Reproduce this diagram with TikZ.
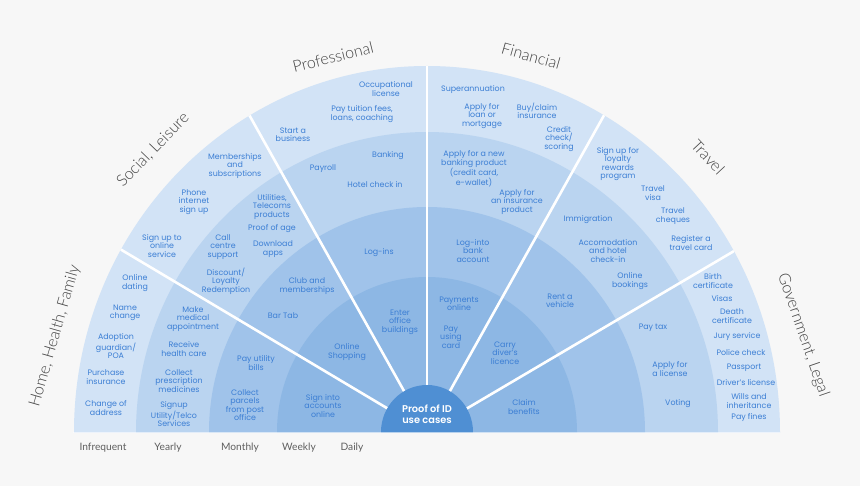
\documentclass[tikz,border=0pt]{standalone}
\usepackage{fontspec}
\newfontfamily\itemfont{Poppins}
\IfFontExistsTF{Poppins SemiBold}{\newfontfamily\corefont{Poppins SemiBold}}{\newfontfamily\corefont{Poppins}[FakeBold=1.5]}
\IfFontExistsTF{Lato Light}{\newfontfamily\thinfont{Lato Light}}{\newfontfamily\thinfont{Lato}}
\newfontfamily\labfont{Lato}
\definecolor{bg}{HTML}{F7F7F7}
\definecolor{ringA}{HTML}{D2E3F6}
\definecolor{ringB}{HTML}{BAD4F0}
\definecolor{ringC}{HTML}{A0C3EA}
\definecolor{ringD}{HTML}{8DB7E4}
\definecolor{core}{HTML}{4F8FD3}
\definecolor{itemblue}{HTML}{3B7ED4}
\definecolor{sectgray}{HTML}{444444}
\definecolor{freqgray}{HTML}{5E5E5E}
\begin{document}
\begin{tikzpicture}[x=1pt,y=-1pt,
  item/.style={font=\itemfont\fontsize{7.9pt}{8.4pt}\selectfont, text=itemblue, align=center, inner sep=0pt},
  sect/.style={font=\thinfont\fontsize{16pt}{18pt}\selectfont, text=sectgray, inner sep=0pt},
  freq/.style={font=\labfont\fontsize{10.2pt}{12pt}\selectfont, text=freqgray, inner sep=0pt},
  corelabel/.style={font=\corefont\fontsize{9.8pt}{11.5pt}\selectfont, text=white, align=center, inner sep=0pt},
  divider/.style={draw=white, line width=2.6pt},
]
\fill[bg] (0,0) rectangle (860,486);
\useasboundingbox (0,0) rectangle (860,486);
\coordinate (c) at (427,432);
\coordinate (d1) at (83.4,227.2);
\coordinate (d2) at (231.4,83.2);
\coordinate (d3) at (427,32);
\coordinate (d4) at (622.2,82.8);
\coordinate (d5) at (771.8,228.8);
\coordinate (bl) at (73,432.3);
\coordinate (br) at (780,432.3);
\begin{scope}
  \clip (0,0) rectangle (860,432.5);
  \fill[ringA] (c) ellipse [x radius=353pt, y radius=366pt];
  \fill[ringB] (c) ellipse [x radius=291pt, y radius=300pt];
  \fill[ringC] (c) ellipse [x radius=218pt, y radius=225pt];
  \fill[ringD] (c) ellipse [x radius=150pt, y radius=155pt];
  \clip (c) ellipse [x radius=353pt, y radius=366pt];
  \draw[divider] (c) -- (d1);
  \draw[divider] (c) -- (d2);
  \draw[divider] (c) -- (d3);
  \draw[divider] (c) -- (d4);
  \draw[divider] (c) -- (d5);
  \fill[core] (c) ellipse [x radius=46pt, y radius=47pt];
\end{scope}
\draw[white, opacity=0.6, line width=0.8pt] (bl) -- (br);
\node[corelabel] (core) at (427,414) {Proof of ID\\use cases};

% Home, Health, Family
\node[item] (h1) at (135,283) {Online\\dating};
\node[item] (h2) at (125,313) {Name\\change};
\node[item] (h3) at (116,346) {Adoption\\guardian/\\POA};
\node[item] (h4) at (106,377) {Purchase\\insurance};
\node[item] (h5) at (106,408) {Change of\\address};
\node[item] (h6) at (193,319) {Make\\medical\\appointment};
\node[item] (h7) at (184,349) {Receive\\health care};
\node[item] (h8) at (179,381) {Collect\\prescription\\medicines};
\node[item] (h9) at (174,414) {Signup\\Utility/Telco\\Services};
\node[item] (h10) at (256,363) {Pay utility\\bills};
\node[item] (h11) at (245,405) {Collect\\parcels\\from post\\office};
\node[item] (h12) at (323,406) {Sign into\\accounts\\online};

% Social, Leisure
\node[item] (s1) at (162,246) {Sign up to\\online\\service};
\node[item] (s2) at (194,202) {Phone\\internet\\sign up};
\node[item] (s3) at (235,166) {Memberships\\and\\subscriptions};
\node[item] (s4) at (272,207) {Utilities,\\Telecoms\\products};
\node[item] (s5) at (272,229) {Proof of age};
\node[item] (s6) at (223,247) {Call\\centre\\support};
\node[item] (s7) at (273,249) {Download\\apps};
\node[item] (s8) at (226,281) {Discount/\\Loyalty\\Redemption};
\node[item] (s9) at (307,286) {Club and\\memberships};
\node[item] (s10) at (283,316) {Bar Tab};
\node[item] (s11) at (347,352) {Online\\Shopping};

% Professional
\node[item] (p1) at (386,89) {Occupational\\license};
\node[item] (p2) at (362,114) {Pay tuition fees,\\loans, coaching};
\node[item] (p3) at (293,135) {Start a\\business};
\node[item] (p4) at (388,156) {Banking};
\node[item] (p5) at (323,169) {Payroll};
\node[item] (p6) at (375,185) {Hotel check in};
\node[item] (p7) at (379,253) {Log-ins};
\node[item] (p8) at (400,322) {Enter\\office\\buildings};

% Financial
\node[item] (f1) at (473,90) {Superannuation};
\node[item] (f2) at (482,116) {Apply for\\loan or\\mortgage};
\node[item] (f3) at (537,111) {Buy/claim\\insurance};
\node[item] (f4) at (559,139) {Credit\\check/\\scoring};
\node[item] (f5) at (474,169) {Apply for a new\\banking product\\(credit card,\\e-wallet)};
\node[item] (f6) at (517,202) {Apply for\\an insurance\\product};
\node[item] (f7) at (473,251) {Log-into\\bank\\account};
\node[item] (f8) at (459,304) {Payments\\online};
\node[item] (f9) at (451,337) {Pay\\using\\card};

% Travel
\node[item] (t1) at (618,164) {Sign up for\\loyalty\\rewards\\program};
\node[item] (t2) at (653,193) {Travel\\visa};
\node[item] (t3) at (673,216) {Travel\\cheques};
\node[item] (t4) at (691,243) {Register a\\travel card};
\node[item] (t5) at (588,220) {Immigration};
\node[item] (t6) at (608,251) {Accomodation\\and hotel\\check-in};
\node[item] (t7) at (630,281) {Online\\bookings};
\node[item] (t8) at (560,301) {Rent a\\vehicle};
\node[item] (t9) at (505,353) {Carry\\diver’s\\licence};

% Government, Legal
\node[item] (g1) at (713,281) {Birth\\certificate};
\node[item] (g2) at (722,299) {Visas};
\node[item] (g3) at (732,316) {Death\\certificate};
\node[item] (g4) at (737,337) {Jury service};
\node[item] (g5) at (741,353) {Police check};
\node[item] (g6) at (744,368) {Passport};
\node[item] (g7) at (746,383) {Driver’s license};
\node[item] (g8) at (749,401) {Wills and\\inheritance};
\node[item] (g9) at (749,418) {Pay fines};
\node[item] (g10) at (653,328) {Pay tax};
\node[item] (g11) at (670,369) {Apply for\\a license};
\node[item] (g12) at (678,404) {Voting};
\node[item] (g13) at (524,407) {Claim\\benefits};

% Sector labels
\node[sect, rotate=74] (L1) at (55,336) {Home, Health, Family};
\node[sect, rotate=46] (L2) at (153,150) {Social, Leisure};
\node[sect, rotate=14] (L3) at (333,57) {Professional};
\node[sect, rotate=-16] (L4) at (531,56) {Financial};
\node[sect, rotate=-47] (L5) at (708,157) {Travel};
\node[sect, rotate=-71] (L6) at (803,335) {Government, Legal};

% Frequency labels
\node[freq] (q1) at (103,448) {Infrequent};
\node[freq] (q2) at (168,448) {Yearly};
\node[freq] (q3) at (240,448) {Monthly};
\node[freq] (q4) at (299,448) {Weekly};
\node[freq] (q5) at (352,448) {Daily};
\end{tikzpicture}
\end{document}
